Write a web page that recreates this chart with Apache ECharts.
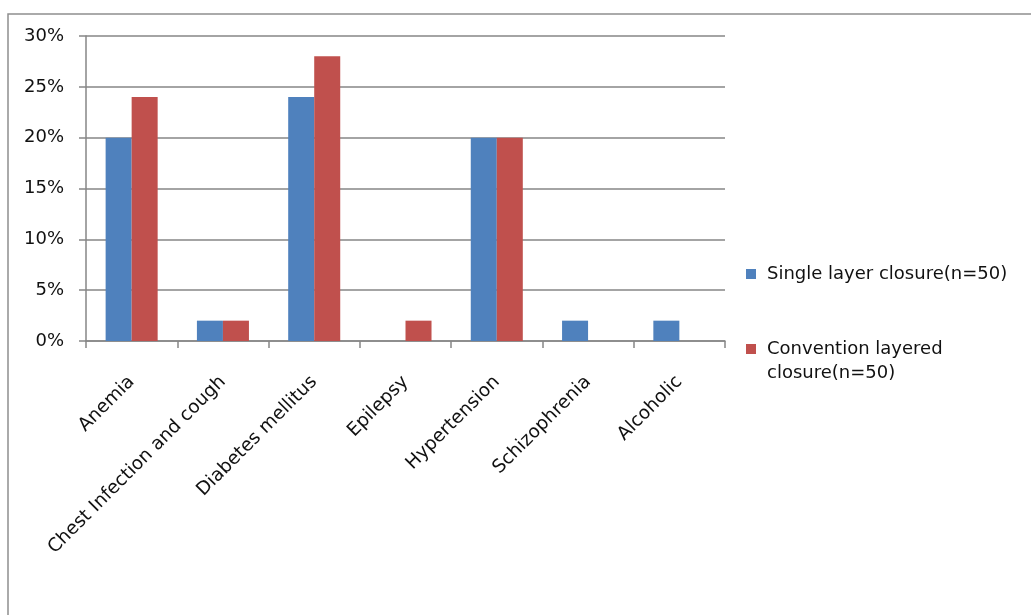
<!DOCTYPE html>
<html>
<head>
<meta charset="utf-8">
<script src="https://cdn.jsdelivr.net/npm/echarts@6/dist/echarts.min.js"></script>
<style>
  html, body { margin: 0; padding: 0; background: #ffffff; }
  #chart { width: 1031px; height: 615px; }
</style>
</head>
<body>
<div id="chart"></div>
<script>
// Comorbidities by closure technique (percent of patients)
const categories = ['Anemia', 'Chest Infection and cough', 'Diabetes mellitus', 'Epilepsy', 'Hypertension', 'Schizophrenia', 'Alcoholic'];
const singleLayer = [20, 2, 24, 0, 20, 2, 2];
const conventionLayered = [24, 2, 28, 2, 20, 0, 0];
const seriesNames = ['Single layer closure(n=50)', 'Convention layered closure(n=50)'];
const yTicks = { min: 0, max: 30, interval: 5 };

const FONT = 'DejaVu Sans';
const GRAY = '#868686';

const chart = echarts.init(document.getElementById('chart'));
chart.setOption({
  animation: false,
  backgroundColor: '#ffffff',
  textStyle: { fontFamily: FONT },
  graphic: [{
    type: 'rect',
    shape: { x: 8, y: 14, width: 1040, height: 700 },
    style: { fill: 'none', stroke: '#8f8f8f', lineWidth: 1.5 },
    silent: true
  }],
  grid: { left: 86, right: 306, top: 36, bottom: 274 },
  legend: [{
    data: [seriesNames[0]],
    orient: 'vertical',
    left: 746, top: 262, padding: 0,
    icon: 'rect', itemWidth: 10, itemHeight: 10,
    textStyle: { fontFamily: FONT, fontSize: 18, color: '#111', lineHeight: 24, padding: [0, 0, 0, 6] }
  }, {
    data: [seriesNames[1]],
    orient: 'vertical',
    left: 746, top: 313, padding: 0,
    icon: 'rect', itemWidth: 10, itemHeight: 10,
    // leading blank line keeps the marker level with the first wrapped line
    formatter: function () { return '\nConvention layered\nclosure(n=50)'; },
    textStyle: { fontFamily: FONT, fontSize: 18, color: '#111', lineHeight: 24, padding: [0, 0, 0, 6] }
  }],
  xAxis: {
    type: 'category',
    data: categories,
    axisLine: { lineStyle: { color: GRAY, width: 1.5 } },
    axisTick: { show: true, length: 7, inside: false, alignWithLabel: false, lineStyle: { color: GRAY, width: 1.5 } },
    axisLabel: { interval: 0, rotate: 45, margin: 38, fontFamily: FONT, fontSize: 18.5, color: '#111' }
  },
  yAxis: {
    type: 'value',
    min: yTicks.min, max: yTicks.max, interval: yTicks.interval,
    axisLine: { show: true, lineStyle: { color: GRAY, width: 1.5 } },
    axisTick: { show: true, length: 7, lineStyle: { color: GRAY, width: 1.5 } },
    splitLine: { lineStyle: { color: GRAY, width: 1.5 } },
    axisLabel: { formatter: '{value}%', margin: 22, fontFamily: FONT, fontSize: 18, color: '#111' }
  },
  series: [{
    name: seriesNames[0],
    type: 'bar',
    data: singleLayer,
    barGap: '0%',
    barCategoryGap: '43%',
    itemStyle: { color: '#4F81BD' }
  }, {
    name: seriesNames[1],
    type: 'bar',
    data: conventionLayered,
    barGap: '0%',
    barCategoryGap: '43%',
    itemStyle: { color: '#C0504D' }
  }]
});
</script>
</body>
</html>
